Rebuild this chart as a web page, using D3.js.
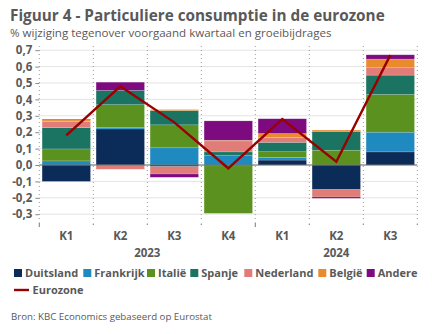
<!DOCTYPE html>
<html>
<head>
<meta charset="utf-8">
<script src="https://cdn.jsdelivr.net/npm/d3@7"></script>
<style>
  html, body { margin: 0; padding: 0; background: #fff; }
  svg { display: block; font-family: "Open Sans", "Noto Sans", sans-serif; }
</style>
</head>
<body>
<svg id="chart" width="432" height="334"></svg>
<script>
// Quarters and year groups along the category axis
const quarters = ["K1", "K2", "K3", "K4", "K1", "K2", "K3"];
const years = ["2023", "2023", "2023", "2023", "2024", "2024", "2024"];
const yearLabels = ["2023", "2024"];

// Contributions to private consumption growth (percentage points)
const countries = ["Duitsland", "Frankrijk", "Italië", "Spanje", "Nederland", "België", "Andere"];
const duitsland = [-0.10, 0.22, -0.01, -0.005, 0.03, -0.15, 0.08];
const frankrijk = [0.025, 0.008, 0.105, 0.06, 0.016, 0.0, 0.12];
const italie    = [0.073, 0.14, 0.14, -0.29, 0.035, 0.09, 0.23];
const spanje    = [0.13, 0.087, 0.087, 0.02, 0.057, 0.115, 0.118];
const nederland = [0.037, -0.026, -0.045, 0.067, 0.03, -0.045, 0.045];
const belgie    = [0.01, 0.0, 0.006, 0.004, 0.024, 0.008, 0.053];
const andere    = [0.004, 0.05, -0.02, 0.118, 0.09, -0.008, 0.026];
// Quarter-on-quarter growth of the euro area total
const eurozone  = [0.18, 0.48, 0.26, -0.02, 0.28, 0.02, 0.67];

const yTicks = [-0.3, -0.2, -0.1, 0.0, 0.1, 0.2, 0.3, 0.4, 0.5, 0.6, 0.7];

const colors = ["#0b2c58", "#1f8ac0", "#5b921f", "#1a7461", "#e07d78", "#e98b2d", "#7e0a80"];
const lineColor = "#990000";
const textColor = "#595959";

const series = [duitsland, frankrijk, italie, spanje, nederland, belgie, andere];
const keys = quarters.map((q, i) => years[i] + " " + q);
const rows = keys.map((k, i) => {
  const r = { key: k };
  countries.forEach((c, j) => { r[c] = series[j][i]; });
  return r;
});

const svg = d3.select("#chart");

const x = d3.scaleBand().domain(keys).range([39.3, 417.3]).paddingInner(0.104).paddingOuter(0.052);
const y = d3.scaleLinear().domain([-0.3, 0.7]).range([214.2, 50.2]);
const color = d3.scaleOrdinal().domain(countries).range(colors);

// Title and subtitle
svg.append("text").attr("x", 10).attr("y", 21)
  .attr("font-size", 15.3).attr("font-weight", 700).attr("fill", textColor)
  .text("Figuur 4 - Particuliere consumptie in de eurozone");
svg.append("text").attr("x", 10).attr("y", 37)
  .attr("font-size", 11.55).attr("fill", textColor)
  .text("% wijziging tegenover voorgaand kwartaal en groeibijdrages");

// Horizontal gridlines
svg.append("g").selectAll("line").data(yTicks).join("line")
  .attr("x1", 39.3).attr("x2", 417.3)
  .attr("y1", d => y(d)).attr("y2", d => y(d))
  .attr("stroke", "#e4e4e4").attr("stroke-width", 1);

// Dotted category separators
const bounds = d3.range(keys.length + 1).map(i => x.range()[0] + i * x.step());
svg.append("g").selectAll("line").data(bounds).join("line")
  .attr("x1", d => d).attr("x2", d => d)
  .attr("y1", 46).attr("y2", 221)
  .attr("stroke", "#9a9a9a").attr("stroke-width", 1).attr("stroke-dasharray", "1,3");

// Left axis with comma decimals
const yAxis = d3.axisLeft(y).tickValues(yTicks).tickSize(4).tickPadding(3)
  .tickFormat(d => d3.format(".1f")(d).replace("−", "-").replace(".", ","));
const gy = svg.append("g").attr("transform", "translate(39.3,0)").call(yAxis);
gy.select(".domain").remove();
gy.selectAll(".tick line").attr("stroke", "#8a8a8a");
gy.selectAll(".tick text").attr("fill", textColor).attr("font-size", 11.5)
  .attr("font-weight", 700).attr("font-family", "'Open Sans', sans-serif");

// Stacked bars, positives upward and negatives downward
const stack = d3.stack().keys(countries).offset(d3.stackOffsetDiverging);
const layers = stack(rows);
svg.append("g").selectAll("g").data(layers).join("g")
  .attr("fill", d => color(d.key))
  .selectAll("rect").data(d => d).join("rect")
  .attr("x", d => x(d.data.key))
  .attr("width", x.bandwidth())
  .attr("y", d => y(Math.max(d[0], d[1])))
  .attr("height", d => Math.abs(y(d[0]) - y(d[1])))
  .attr("stroke", "rgba(255,255,255,0.25)").attr("stroke-width", 0.6);

// Zero line
svg.append("line").attr("x1", 39.3).attr("x2", 417.3)
  .attr("y1", y(0)).attr("y2", y(0))
  .attr("stroke", "#6b6b6b").attr("stroke-width", 1);

// Euro area line
const line = d3.line().x((d, i) => x(keys[i]) + x.bandwidth() / 2).y(d => y(d));
svg.append("path").datum(eurozone)
  .attr("d", line).attr("fill", "none")
  .attr("stroke", lineColor).attr("stroke-width", 2.4).attr("stroke-linejoin", "miter");

// Category axis ticks
svg.append("g").selectAll("line").data(bounds).join("line")
  .attr("x1", d => d).attr("x2", d => d)
  .attr("y1", (d, i) => (i === 0 || i === 4) ? 222.5 : 223.5)
  .attr("y2", (d, i) => (i === 0 || i === 4) ? 227 : 225)
  .attr("stroke", "#7a7a7a").attr("stroke-width", 1);

// Quarter labels
svg.append("g").selectAll("text").data(keys).join("text")
  .attr("x", d => x(d) + x.bandwidth() / 2).attr("y", 240)
  .attr("text-anchor", "middle").attr("font-size", 11.5).attr("font-weight", 700)
  .attr("fill", textColor).text((d, i) => quarters[i]);

// Year labels centred under their quarters
svg.append("g").selectAll("text").data(yearLabels).join("text")
  .attr("x", yr => {
    const idx = years.map((v, i) => v === yr ? i : -1).filter(i => i >= 0);
    return (x(keys[idx[0]]) + x(keys[idx[idx.length - 1]]) + x.bandwidth()) / 2;
  })
  .attr("y", 257).attr("text-anchor", "middle").attr("font-size", 11.5).attr("font-weight", 700)
  .attr("fill", textColor).text(d => d);

// Legend
const legendX = [14, 83.3, 147, 190.3, 244.3, 318.3, 366.7];
const lg = svg.append("g").selectAll("g").data(countries).join("g")
  .attr("transform", (d, i) => `translate(${legendX[i]},269)`);
lg.append("rect").attr("width", 8).attr("height", 8).attr("fill", d => color(d));
lg.append("text").attr("x", 11).attr("y", 8.3).attr("font-size", 11).attr("font-weight", 700)
  .attr("fill", textColor).text(d => d);
const le = svg.append("g").attr("transform", "translate(14,290)");
le.append("line").attr("x1", 0).attr("x2", 15).attr("stroke", lineColor).attr("stroke-width", 2.4);
le.append("text").attr("x", 18.5).attr("y", 4).attr("font-size", 11).attr("font-weight", 700)
  .attr("fill", textColor).text("Eurozone");

// Source note
svg.append("text").attr("x", 11).attr("y", 319.5)
  .attr("font-size", 9.7).attr("fill", textColor)
  .text("Bron: KBC Economics gebaseerd op Eurostat");
</script>
</body>
</html>
